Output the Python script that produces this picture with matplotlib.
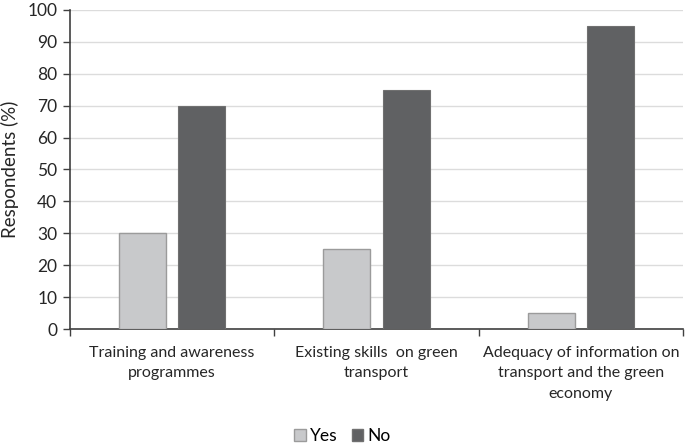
import numpy as np
import matplotlib
matplotlib.use("Agg")
import matplotlib.pyplot as plt
from matplotlib.patches import Patch

categories = ["Training and awareness\nprogrammes",
              "Existing skills  on green\ntransport",
              "Adequacy of information on\ntransport and the green\neconomy"]
yes_vals = [30, 25, 5]
no_vals = [70, 75, 95]

plt.rcParams['font.family'] = ['Lato', 'DejaVu Sans']

fig = plt.figure(figsize=(6.85, 4.46), dpi=100)
ax = fig.add_axes([0.102, 0.262, 0.895, 0.716])

x = np.arange(len(categories))
w = 0.23
ax.bar(x - 0.145, yes_vals, w, color='#c8c9cb', edgecolor='#9b9b9b', linewidth=1, zorder=3)
ax.bar(x + 0.145, no_vals, w, color='#606163', edgecolor='#707070', linewidth=0.8, zorder=3)

ax.set_xlim(-0.5, len(categories) - 0.5)
ax.set_ylim(0, 100)
ax.set_yticks(range(0, 101, 10))
ax.yaxis.grid(True, color='#dcdcdc', linewidth=1, zorder=0)

# boundaries get ticks, centres get labels
ax.set_xticks(np.arange(-0.5, len(categories), 1.0))
ax.set_xticklabels([])
ax.set_xticks(x, minor=True)
ax.set_xticklabels(categories, minor=True, fontsize=11.5, color='#262626', linespacing=1.6)
ax.tick_params(axis='x', which='minor', length=0, pad=12)
ax.tick_params(axis='x', which='major', length=5, color='#404040', width=1)
ax.tick_params(axis='y', length=5, color='#404040', width=1, labelsize=12.5,
               labelcolor='#262626', pad=4)

for s in ['top', 'right']:
    ax.spines[s].set_visible(False)
for s in ['left', 'bottom']:
    ax.spines[s].set_color('#404040')
    ax.spines[s].set_linewidth(1.2)

ax.set_ylabel('Respondents (%)', fontsize=13.5, color='#262626', labelpad=6)

handles = [Patch(facecolor='#c8c9cb', edgecolor='#9b9b9b', label='Yes'),
           Patch(facecolor='#606163', edgecolor='#707070', label='No')]
fig.legend(handles=handles, loc='center', bbox_to_anchor=(0.5, 0.022), ncol=2,
           frameon=False, fontsize=12.5, handlelength=0.65, handleheight=0.65,
           handletextpad=0.25, columnspacing=0.8)

fig.savefig('out.png', dpi=100)
